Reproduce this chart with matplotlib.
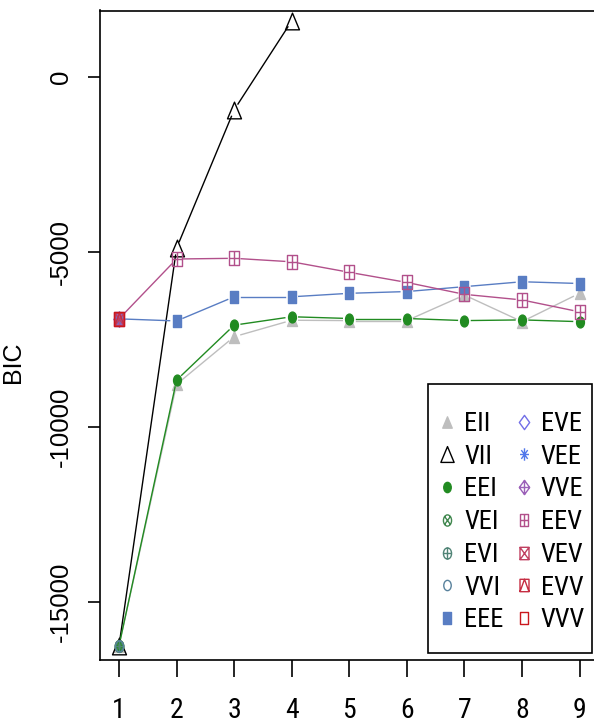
import numpy as np
import matplotlib
matplotlib.use('Agg')
import matplotlib.pyplot as plt
from matplotlib.path import Path
from matplotlib.transforms import Affine2D
from matplotlib.lines import Line2D
from matplotlib.patches import Rectangle

# BIC values (nan = model not fitted)
G = [1, 2, 3, 4, 5, 6, 7, 8, 9]
nan = np.nan
EII = [-16250, -8780, -7420, -6950, -6960, -6960, -6230, -6990, -6180]
VII = [-16250, -4890, -940, 1600, nan, nan, nan, nan, nan]
EEI = [-16250, -8660, -7090, -6850, -6900, -6900, -6960, -6940, -6990]
VEI = [-16250, nan, nan, nan, nan, nan, nan, nan, nan]
EVI = [-16250, nan, nan, nan, nan, nan, nan, nan, nan]
VVI = [-16250, nan, nan, nan, nan, nan, nan, nan, nan]
EEE = [-6910, -6970, -6280, -6280, -6180, -6130, -5990, -5850, -5900]
EVE = [-6910, nan, nan, nan, nan, nan, nan, nan, nan]
VEE = [-6910, nan, nan, nan, nan, nan, nan, nan, nan]
VVE = [-6910, nan, nan, nan, nan, nan, nan, nan, nan]
EEV = [-6910, -5200, -5180, -5280, -5580, -5870, -6210, -6370, -6710]
VEV = [-6910, nan, nan, nan, nan, nan, nan, nan, nan]
EVV = [-6910, nan, nan, nan, nan, nan, nan, nan, nan]
VVV = [-6910, nan, nan, nan, nan, nan, nan, nan, nan]

models = ['EII', 'VII', 'EEI', 'VEI', 'EVI', 'VVI', 'EEE',
          'EVE', 'VEE', 'VVE', 'EEV', 'VEV', 'EVV', 'VVV']
bic = dict(EII=EII, VII=VII, EEI=EEI, VEI=VEI, EVI=EVI, VVI=VVI, EEE=EEE,
           EVE=EVE, VEE=VEE, VVE=VVE, EEV=EEV, VEV=VEV, EVV=EVV, VVV=VVV)
cols = dict(EII='#BEBEBE', VII='black', EEI='#218B21', VEI='#41884F',
            EVI='#508476', VVI='#58819C', EEE='#597DC3', VEE='#5178EA',
            EVE='#716EE7', VVE='#9B60B8', EEV='#B2508B', VEV='#C03F60',
            EVV='#C62D42', VVV='#CA171D')

# R pch symbols, stretched vertically like the source image
M, L, C = Path.MOVETO, Path.LINETO, Path.CLOSEPOLY
def poly(p):
    return Path(p + [p[0]], [M] + [L] * (len(p) - 1) + [C])
def seg(a, b):
    return Path([a, b], [M, L])
sq = poly([(-1, -1), (1, -1), (1, 1), (-1, 1)])
dia = poly([(0, -1.4), (1.4, 0), (0, 1.4), (-1.4, 0)])
tri = poly([(-1, -0.866), (1, -0.866), (0, 0.866)])
circ = Path.unit_circle()
plus = Path.make_compound_path(seg((-1, 0), (1, 0)), seg((0, -1), (0, 1)))
cross = Path.make_compound_path(seg((-0.707, -0.707), (0.707, 0.707)),
                                seg((-0.707, 0.707), (0.707, -0.707)))
crossq = Path.make_compound_path(seg((-1, -1), (1, 1)), seg((-1, 1), (1, -1)))
plusd = Path.make_compound_path(seg((-1.4, 0), (1.4, 0)), seg((0, -1.4), (0, 1.4)))
tri_in = Path([(-1, -1), (0, 1), (1, -1)], [M, L, L])
st = Affine2D().scale(1, 1.38)
def mk(*ps):
    return Path.make_compound_path(*ps).transformed(st)

# (path, filled, size in pt)
pch = dict(EII=(mk(tri), True, 8.6), VII=(mk(tri), False, 12),
           EEI=(mk(circ), True, 7.8), VEI=(mk(circ, cross), False, 8.5),
           EVI=(mk(circ, plus), False, 8.5), VVI=(mk(circ), False, 7.8),
           EEE=(mk(sq), True, 8.4), EVE=(mk(dia), False, 10.8),
           VEE=(mk(plus, cross), False, 9.4), VVE=(mk(dia, plusd), False, 10.8),
           EEV=(mk(sq, plus), False, 9.4), VEV=(mk(sq, crossq), False, 9.4),
           EVV=(mk(sq, tri_in), False, 9.4), VVV=(mk(sq), False, 9.4))

fn = ['Roboto Condensed', 'Liberation Sans']
plt.rcParams['font.family'] = 'Liberation Sans'

fig = plt.figure(figsize=(5.94, 7.24), dpi=100)
ax = fig.add_axes([100 / 594, 1 - 660 / 724, 498 / 594, 649.5 / 724])
ax.set_xlim(0.67, 9.32)
ax.set_ylim(-16657, 1900)

def gapped(x, y, gap, **kw):
    pts = ax.transData.transform(np.column_stack([x, y]))
    inv = ax.transData.inverted()
    for i in range(len(pts) - 1):
        p0, p1 = pts[i], pts[i + 1]
        if np.isnan(p0).any() or np.isnan(p1).any():
            continue
        d = p1 - p0
        n = np.hypot(*d)
        if n <= 2 * gap:
            continue
        u = d / n
        s = inv.transform([p0 + u * gap, p1 - u * gap])
        ax.plot(s[:, 0], s[:, 1], **kw)

handles = []
for m in models:
    p, filled, ms = pch[m]
    gapped(G, bic[m], 7, color=cols[m], lw=1.0)
    ax.plot(G, bic[m], ls='none', marker=p, ms=ms, mew=1.0, mec=cols[m],
            mfc=cols[m] if filled else 'none')
    handles.append(Line2D([], [], ls='none', marker=p, ms=ms * 0.95, mew=1.0,
                          mec=cols[m], mfc=cols[m] if filled else 'none'))

for s in ax.spines.values():
    s.set_linewidth(1.2)
ax.set_xticks(G)
ax.set_xticklabels([str(g) for g in G], fontfamily=fn, fontsize=20)
ax.set_yticks([0, -5000, -10000, -15000])
ax.set_yticklabels(['0', '-5000', '-10000', '-15000'], fontsize=18.5,
                   rotation=90, va='center')
ax.tick_params(axis='x', length=12, width=1.2, pad=15)
ax.tick_params(axis='y', length=8.6, width=1.2, pad=11)
ax.set_ylabel('BIC', fontsize=18)
ax.yaxis.set_label_coords(25 / 594, 0.5, transform=fig.transFigure)

# legend entries without frame, R-style box drawn around them
leg = ax.legend(handles, models, ncol=2, loc='upper left',
                bbox_to_anchor=(438 / 594, 1 - 412 / 724),
                bbox_transform=fig.transFigure, borderaxespad=0,
                frameon=False, prop=dict(family=fn, size=19),
                handlelength=0.7, handletextpad=0.3, columnspacing=0.4,
                labelspacing=0.33, borderpad=0)
leg.set_zorder(6)
ax.add_patch(Rectangle((428 / 594, 1 - 653 / 724), 164 / 594, 269 / 724,
                       transform=fig.transFigure, fc='white', ec='black',
                       lw=1.2, zorder=5, clip_on=False))

fig.savefig('out.png', dpi=100)
